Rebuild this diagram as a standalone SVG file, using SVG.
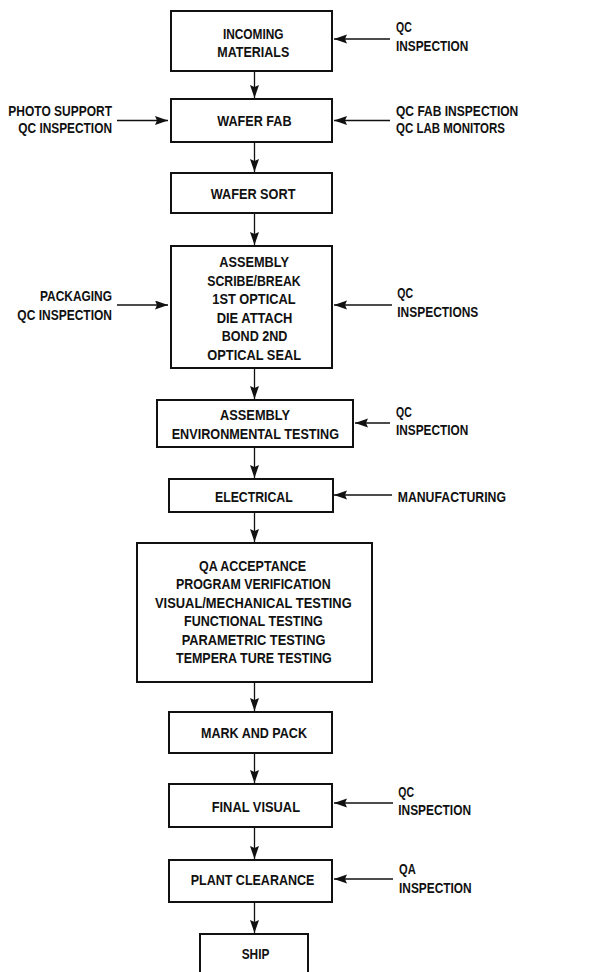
<svg xmlns="http://www.w3.org/2000/svg" width="595" height="972" viewBox="0 0 595 972">
<style>
.box{fill:#fff;stroke:#111;stroke-width:2}
text{font-family:"Liberation Sans",Arial,sans-serif;font-weight:bold;font-size:15px;fill:#111}
.ln{stroke:#111;stroke-width:1.3;fill:none}
</style>
<defs>
<marker id="ah" markerUnits="userSpaceOnUse" markerWidth="14" markerHeight="10" refX="13" refY="4.5" orient="auto">
<path d="M0,0 L13,4.5 L0,9 L2,4.5 Z" fill="#111"/>
</marker>
</defs>
<rect width="595" height="972" fill="#fff"/>
<g id="connectors">
<line class="ln" x1="254.5" y1="71" x2="254.5" y2="98" marker-end="url(#ah)"/>
<line class="ln" x1="254.5" y1="142" x2="254.5" y2="172" marker-end="url(#ah)"/>
<line class="ln" x1="254.5" y1="213" x2="254.5" y2="245" marker-end="url(#ah)"/>
<line class="ln" x1="254.5" y1="368" x2="254.5" y2="399" marker-end="url(#ah)"/>
<line class="ln" x1="254.5" y1="447" x2="254.5" y2="478" marker-end="url(#ah)"/>
<line class="ln" x1="254.5" y1="512" x2="254.5" y2="542" marker-end="url(#ah)"/>
<line class="ln" x1="254.5" y1="682" x2="254.5" y2="711" marker-end="url(#ah)"/>
<line class="ln" x1="254.5" y1="753" x2="254.5" y2="783" marker-end="url(#ah)"/>
<line class="ln" x1="254.5" y1="827" x2="254.5" y2="859" marker-end="url(#ah)"/>
<line class="ln" x1="254.5" y1="902" x2="254.5" y2="933" marker-end="url(#ah)"/>
<line class="ln" x1="390" y1="39" x2="334" y2="39" marker-end="url(#ah)"/>
<line class="ln" x1="117" y1="120.5" x2="168" y2="120.5" marker-end="url(#ah)"/>
<line class="ln" x1="390" y1="120.5" x2="334" y2="120.5" marker-end="url(#ah)"/>
<line class="ln" x1="117" y1="305" x2="168" y2="305" marker-end="url(#ah)"/>
<line class="ln" x1="392" y1="305" x2="334" y2="305" marker-end="url(#ah)"/>
<line class="ln" x1="390" y1="423" x2="355" y2="423" marker-end="url(#ah)"/>
<line class="ln" x1="392" y1="495" x2="334" y2="495" marker-end="url(#ah)"/>
<line class="ln" x1="393" y1="803" x2="334" y2="803" marker-end="url(#ah)"/>
<line class="ln" x1="393" y1="879" x2="334" y2="879" marker-end="url(#ah)"/>
</g>
<g id="incoming">
<rect class="box" x="171" y="11" width="161" height="60"/>
<text x="222.9" y="39" textLength="60.7" lengthAdjust="spacingAndGlyphs">INCOMING</text>
<text x="217.3" y="57" textLength="72" lengthAdjust="spacingAndGlyphs">MATERIALS</text>
</g>
<g id="qc1">
<text x="396" y="32" textLength="15.7" lengthAdjust="spacingAndGlyphs">QC</text>
<text x="396" y="51" textLength="72.3" lengthAdjust="spacingAndGlyphs">INSPECTION</text>
</g>
<g id="waferfab">
<rect class="box" x="171" y="99" width="161" height="43"/>
<text x="217.3" y="126" textLength="74.3" lengthAdjust="spacingAndGlyphs">WAFER FAB</text>
</g>
<g id="photo">
<text x="8.3" y="115.5" textLength="103.7" lengthAdjust="spacingAndGlyphs">PHOTO SUPPORT</text>
<text x="18.3" y="133" textLength="93.7" lengthAdjust="spacingAndGlyphs">QC INSPECTION</text>
</g>
<g id="qcfab">
<text x="396" y="115.5" textLength="122.3" lengthAdjust="spacingAndGlyphs">QC FAB INSPECTION</text>
<text x="396" y="133" textLength="109" lengthAdjust="spacingAndGlyphs">QC LAB MONITORS</text>
</g>
<g id="wafersort">
<rect class="box" x="171" y="173" width="161" height="40"/>
<text x="210.7" y="199" textLength="84.7" lengthAdjust="spacingAndGlyphs">WAFER SORT</text>
</g>
<g id="assembly">
<rect class="box" x="171" y="246" width="161" height="122"/>
<text x="219.2" y="266.5" textLength="69.7" lengthAdjust="spacingAndGlyphs">ASSEMBLY</text>
<text x="207.3" y="285.5" textLength="93.3" lengthAdjust="spacingAndGlyphs">SCRIBE/BREAK</text>
<text x="212.3" y="304" textLength="83.3" lengthAdjust="spacingAndGlyphs">1ST OPTICAL</text>
<text x="216.7" y="322.5" textLength="75.7" lengthAdjust="spacingAndGlyphs">DIE ATTACH</text>
<text x="221.7" y="341" textLength="65.7" lengthAdjust="spacingAndGlyphs">BOND 2ND</text>
<text x="207.3" y="360" textLength="93.7" lengthAdjust="spacingAndGlyphs">OPTICAL SEAL</text>
</g>
<g id="packaging">
<text x="40" y="301" textLength="72" lengthAdjust="spacingAndGlyphs">PACKAGING</text>
<text x="17.3" y="320" textLength="94.7" lengthAdjust="spacingAndGlyphs">QC INSPECTION</text>
</g>
<g id="qcinspections">
<text x="397.3" y="298" textLength="15.7" lengthAdjust="spacingAndGlyphs">QC</text>
<text x="397.3" y="316.5" textLength="81" lengthAdjust="spacingAndGlyphs">INSPECTIONS</text>
</g>
<g id="envtest">
<rect class="box" x="157" y="400" width="196" height="47"/>
<text x="220" y="420" textLength="70" lengthAdjust="spacingAndGlyphs">ASSEMBLY</text>
<text x="171.7" y="439" textLength="167.3" lengthAdjust="spacingAndGlyphs">ENVIRONMENTAL TESTING</text>
</g>
<g id="qc2">
<text x="396" y="417" textLength="15.7" lengthAdjust="spacingAndGlyphs">QC</text>
<text x="396" y="435" textLength="72.3" lengthAdjust="spacingAndGlyphs">INSPECTION</text>
</g>
<g id="electrical">
<rect class="box" x="169" y="479" width="164" height="33"/>
<text x="215" y="501.5" textLength="77.7" lengthAdjust="spacingAndGlyphs">ELECTRICAL</text>
</g>
<g id="manufacturing">
<text x="397.7" y="501.5" textLength="108.3" lengthAdjust="spacingAndGlyphs">MANUFACTURING</text>
</g>
<g id="qaaccept">
<rect class="box" x="137" y="543" width="235" height="139"/>
<text x="199" y="570.5" textLength="107" lengthAdjust="spacingAndGlyphs">QA ACCEPTANCE</text>
<text x="176" y="589" textLength="154.7" lengthAdjust="spacingAndGlyphs">PROGRAM VERIFICATION</text>
<text x="155" y="607.5" textLength="196.7" lengthAdjust="spacingAndGlyphs">VISUAL/MECHANICAL TESTING</text>
<text x="184" y="626" textLength="138.7" lengthAdjust="spacingAndGlyphs">FUNCTIONAL TESTING</text>
<text x="181.7" y="644.5" textLength="143.7" lengthAdjust="spacingAndGlyphs">PARAMETRIC TESTING</text>
<text x="176" y="662.5" textLength="155.7" lengthAdjust="spacingAndGlyphs">TEMPERA TURE TESTING</text>
</g>
<g id="markpack">
<rect class="box" x="169" y="712" width="163" height="41"/>
<text x="201" y="738" textLength="106" lengthAdjust="spacingAndGlyphs">MARK AND PACK</text>
</g>
<g id="finalvisual">
<rect class="box" x="169" y="784" width="163" height="43"/>
<text x="211.7" y="811.5" textLength="88.3" lengthAdjust="spacingAndGlyphs">FINAL VISUAL</text>
</g>
<g id="qc3">
<text x="398.3" y="796.5" textLength="15.7" lengthAdjust="spacingAndGlyphs">QC</text>
<text x="398.3" y="815" textLength="72.7" lengthAdjust="spacingAndGlyphs">INSPECTION</text>
</g>
<g id="plantclear">
<rect class="box" x="169" y="860" width="163" height="42"/>
<text x="190.7" y="885" textLength="123.7" lengthAdjust="spacingAndGlyphs">PLANT CLEARANCE</text>
</g>
<g id="qa">
<text x="399" y="874" textLength="16.7" lengthAdjust="spacingAndGlyphs">QA</text>
<text x="399" y="892.5" textLength="72.7" lengthAdjust="spacingAndGlyphs">INSPECTION</text>
</g>
<g id="ship">
<rect class="box" x="200" y="934" width="108" height="50"/>
<text x="241.7" y="959" textLength="27.7" lengthAdjust="spacingAndGlyphs">SHIP</text>
</g>
</svg>
